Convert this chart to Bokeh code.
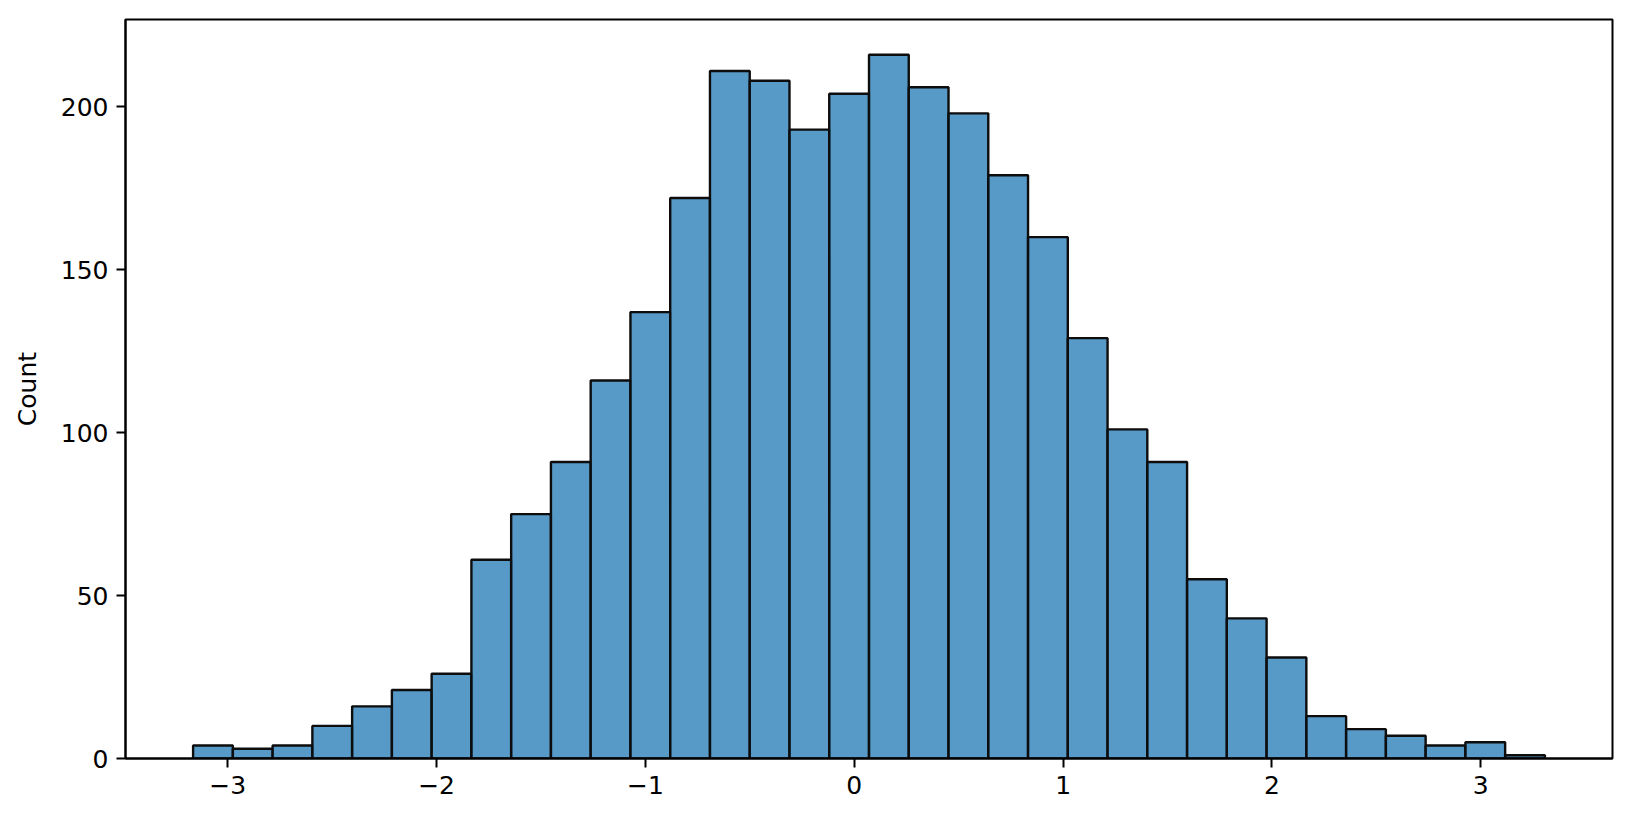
from bokeh.plotting import figure
from bokeh.models import Range1d, FixedTicker
from bokeh.embed import file_html
from bokeh.resources import INLINE

# Histogram data
bin_start = -3.166
bin_width = 0.19038
counts = [4, 3, 4, 10, 16, 21, 26, 61, 75, 91, 116, 137, 172, 211, 208, 193,
          204, 216, 206, 198, 179, 160, 129, 101, 91, 55, 43, 31, 13, 9, 7, 4, 5, 1]
x_ticks = [-3, -2, -1, 0, 1, 2, 3]
x_tick_labels = ["\u22123", "\u22122", "\u22121", "0", "1", "2", "3"]
y_ticks = [0, 50, 100, 150, 200]
y_label = "Count"

lefts = [bin_start + i * bin_width for i in range(len(counts))]
rights = [l + bin_width for l in lefts]
span = rights[-1] - lefts[0]

p = figure(width=1624, height=814, output_backend="svg", toolbar_location=None,
           x_range=Range1d(lefts[0] - 0.05 * span, rights[-1] + 0.05 * span),
           y_range=Range1d(0, max(counts) * 1.05),
           min_border_left=125, min_border_right=12, min_border_top=19,
           min_border_bottom=56)

p.quad(left=lefts, right=rights, bottom=0, top=counts,
       fill_color="#1f77b4", fill_alpha=0.75,
       line_color="#0d0d0d", line_width=2.4)

p.grid.visible = False
p.background_fill_color = "white"
p.border_fill_color = "white"
p.outline_line_color = "black"
p.outline_line_width = 2

font = "DejaVu Sans"
for ax in (p.xaxis[0], p.yaxis[0]):
    ax.axis_line_color = "black"
    ax.axis_line_width = 2
    ax.major_tick_line_color = "black"
    ax.major_tick_line_width = 2
    ax.major_tick_out = 9
    ax.major_tick_in = 0
    ax.minor_tick_line_color = None
    ax.major_label_text_font = font
    ax.major_label_text_font_size = "25px"
    ax.major_label_text_color = "black"
    ax.major_label_standoff = 8

p.xaxis.ticker = FixedTicker(ticks=x_ticks)
p.xaxis.major_label_overrides = {t: l for t, l in zip(x_ticks, x_tick_labels)}
p.yaxis.ticker = FixedTicker(ticks=y_ticks)
p.yaxis.axis_label = y_label
p.yaxis.axis_label_text_font = font
p.yaxis.axis_label_text_font_size = "25px"
p.yaxis.axis_label_text_font_style = "normal"
p.yaxis.axis_label_text_color = "black"
p.yaxis.axis_label_standoff = 16

open("out.html", "w").write(file_html(p, INLINE))
